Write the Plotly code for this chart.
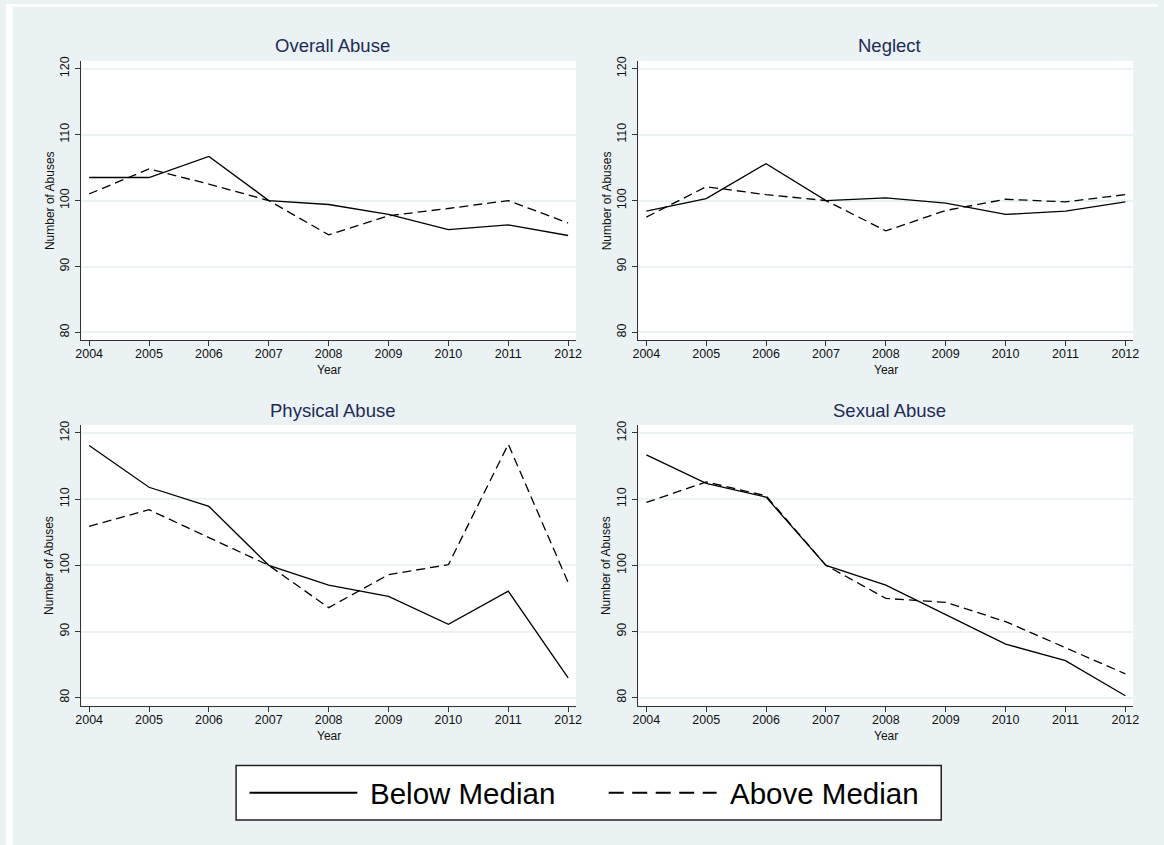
import plotly.graph_objects as go

years = [2004, 2005, 2006, 2007, 2008, 2009, 2010, 2011, 2012]

overall_below = [103.5, 103.5, 106.7, 100.0, 99.4, 97.9, 95.6, 96.3, 94.7]
overall_above = [101.0, 104.8, 102.5, 100.0, 94.8, 97.7, 98.8, 100.0, 96.6]
neglect_below = [98.4, 100.3, 105.6, 100.0, 100.4, 99.6, 97.9, 98.4, 99.8]
neglect_above = [97.5, 102.1, 100.9, 100.0, 95.4, 98.5, 100.2, 99.8, 100.9]
physical_below = [118.1, 111.8, 108.9, 100.0, 97.0, 95.3, 91.1, 96.1, 83.0]
physical_above = [105.9, 108.4, 104.2, 100.0, 93.6, 98.6, 100.1, 118.3, 97.4]
sexual_below = [116.7, 112.4, 110.3, 100.0, 97.0, 92.5, 88.1, 85.6, 80.3]
sexual_above = [109.5, 112.6, 110.5, 100.0, 95.0, 94.4, 91.5, 87.6, 83.6]

panel_titles = ["Overall Abuse", "Neglect", "Physical Abuse", "Sexual Abuse"]
series_names = ["Below Median", "Above Median"]
y_ticks = [80, 90, 100, 110, 120]

W, H = 1164, 845
BG = "#EAF2F3"
FONT = "Liberation Sans, Arial, Helvetica, sans-serif"
TITLE_COLOR = "#1E2B57"

panels = [
    (overall_below, overall_above),
    (neglect_below, neglect_above),
    (physical_below, physical_above),
    (sexual_below, sexual_above),
]

# pixel boxes of plot areas: (left, right, top, bottom)
boxes = [(76, 576, 57, 338), (639, 1139, 57, 338),
         (76, 576, 423, 705), (639, 1139, 423, 705)]

PX_PER_UNIT = 6.63   # y pixels per data unit
PX_PER_YEAR = 60.5   # x pixels per year

fig = go.Figure()
layout = dict(
    width=W, height=H,
    margin=dict(l=0, r=0, t=0, b=0),
    paper_bgcolor=BG, plot_bgcolor="white",
    showlegend=False,
    font=dict(family=FONT, color="#111111"),
)
annotations = []
shapes = []

for i, ((below, above), (l, r, t, b)) in enumerate(zip(panels, boxes)):
    n = i + 1
    xa = "x" if n == 1 else f"x{n}"
    ya = "y" if n == 1 else f"y{n}"
    fig.add_trace(go.Scatter(x=years, y=below, mode="lines", name=series_names[0],
                             line=dict(color="#000000", width=1.3),
                             xaxis=xa, yaxis=ya))
    fig.add_trace(go.Scatter(x=years, y=above, mode="lines", name=series_names[1],
                             line=dict(color="#000000", width=1.3, dash="9px,5px"),
                             xaxis=xa, yaxis=ya))
    xkey = "xaxis" if n == 1 else f"xaxis{n}"
    ykey = "yaxis" if n == 1 else f"yaxis{n}"
    layout[xkey] = dict(
        domain=[l / W, r / W], anchor=ya,
        range=[2004 - 8 / PX_PER_YEAR, 2012 + 8 / PX_PER_YEAR],
        tickmode="array", tickvals=years, ticktext=[str(y) for y in years],
        ticks="outside", ticklen=5, tickwidth=1, tickcolor="#333333",
        ticklabelstandoff=-3,
        showline=True, linecolor="#333333", linewidth=1,
        showgrid=False, zeroline=False,
        tickfont=dict(family=FONT, size=12.5, color="#111111"),
    )
    layout[ykey] = dict(
        domain=[1 - b / H, 1 - t / H], anchor=xa,
        range=[80 - 8 / PX_PER_UNIT, 120 + 8 / PX_PER_UNIT],
        tickmode="array", tickvals=y_ticks, ticktext=[str(v) for v in y_ticks],
        tickangle=-90,
        ticks="outside", ticklen=5, tickwidth=1, tickcolor="#333333",
        ticklabelstandoff=1,
        showline=True, linecolor="#333333", linewidth=1,
        showgrid=True, gridcolor=BG, gridwidth=1.5, zeroline=False,
        tickfont=dict(family=FONT, size=12.5, color="#111111"),
    )
    cx = (l + r) / 2
    annotations.append(dict(text=panel_titles[i], x=(cx + 4) / W, y=1 - (t - 15) / H,
                            xref="paper", yref="paper", xanchor="center", yanchor="middle",
                            showarrow=False, font=dict(family=FONT, size=18.5, color=TITLE_COLOR)))
    annotations.append(dict(text="Year", x=cx / W, y=1 - (b + 30) / H,
                            xref="paper", yref="paper", xanchor="center", yanchor="middle",
                            showarrow=False, font=dict(family=FONT, size=12, color="#111111")))
    annotations.append(dict(text="Number of Abuses", x=(l - 32) / W, y=1 - ((t + b) / 2) / H,
                            xref="paper", yref="paper", xanchor="center", yanchor="middle",
                            textangle=-90, showarrow=False,
                            font=dict(family=FONT, size=12, color="#111111")))

# white outer border strips (top and left)
shapes.append(dict(type="rect", xref="paper", yref="paper", x0=0, x1=1, y0=1 - 3 / H, y1=1,
                   fillcolor="white", line=dict(width=0), layer="below"))
shapes.append(dict(type="rect", xref="paper", yref="paper", x0=0, x1=7 / W, y0=0, y1=1,
                   fillcolor="white", line=dict(width=0), layer="below"))

# legend box drawn manually (long key lines like the original)
lg_l, lg_r, lg_t, lg_b = 232.5, 945, 765, 820
shapes.append(dict(type="rect", xref="paper", yref="paper",
                   x0=lg_l / W, x1=lg_r / W, y0=1 - lg_b / H, y1=1 - lg_t / H,
                   fillcolor="white", line=dict(color="#222222", width=1.5)))
ky = 1 - 792.5 / H
shapes.append(dict(type="line", xref="paper", yref="paper", x0=246 / W, x1=355 / W, y0=ky, y1=ky,
                   line=dict(color="#000000", width=2)))
shapes.append(dict(type="line", xref="paper", yref="paper", x0=609 / W, x1=718 / W, y0=ky, y1=ky,
                   line=dict(color="#000000", width=2, dash="15px,8.5px")))
annotations.append(dict(text=series_names[0], x=366 / W, y=1 - 793 / H, xref="paper", yref="paper",
                        xanchor="left", yanchor="middle", showarrow=False,
                        font=dict(family=FONT, size=29.5, color="#000000")))
annotations.append(dict(text=series_names[1], x=730 / W, y=1 - 793 / H, xref="paper", yref="paper",
                        xanchor="left", yanchor="middle", showarrow=False,
                        font=dict(family=FONT, size=29.5, color="#000000")))

layout["annotations"] = annotations
layout["shapes"] = shapes
fig.update_layout(**layout)
fig.write_html("out.html",
               config={"displayModeBar": False},
               post_script="document.body.style.margin='0';document.body.style.overflow='hidden';")
